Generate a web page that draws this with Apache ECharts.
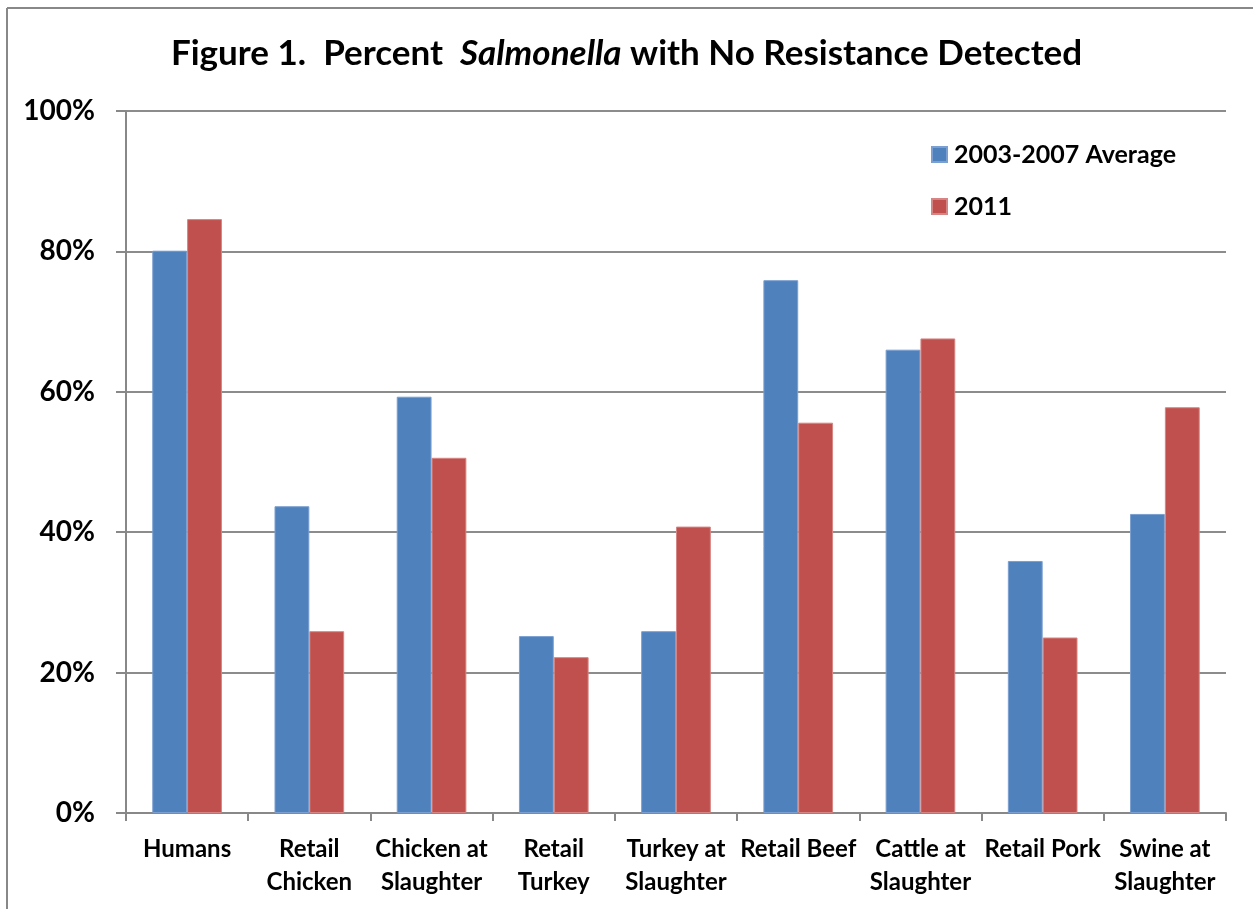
<!DOCTYPE html>
<html>
<head>
<meta charset="utf-8">
<script src="https://cdn.jsdelivr.net/npm/echarts@6/dist/echarts.min.js"></script>
<style>
  html, body { margin: 0; padding: 0; background: #fff; }
  #chart { width: 1253px; height: 909px; }
</style>
</head>
<body>
<div id="chart"></div>
<script>
// Sources tested
const categories = [
  'Humans',
  'Retail\nChicken',
  'Chicken at\nSlaughter',
  'Retail\nTurkey',
  'Turkey at\nSlaughter',
  'Retail Beef',
  'Cattle at\nSlaughter',
  'Retail Pork',
  'Swine at\nSlaughter'
];

// Percent of isolates with no resistance detected
const avg2003to2007 = [80.1, 43.7, 59.3, 25.2, 25.9, 75.9, 66.0, 35.9, 42.6];
const year2011 = [84.6, 25.9, 50.6, 22.2, 40.8, 55.6, 67.6, 25.0, 57.8];

const seriesNames = ['2003-2007 Average', '2011'];
const yTicks = [0, 20, 40, 60, 80, 100];

const FONT = 'Lato';
const chart = echarts.init(document.getElementById('chart'));

chart.setOption({
  backgroundColor: '#fff',
  animation: false,
  title: {
    left: 'center',
    top: 36,
    padding: 0,
    text: '{b|Figure 1.  Percent  }{i|Salmonella}{b| with No Resistance Detected}',
    textStyle: {
      rich: {
        b: { fontFamily: FONT, fontWeight: 'bold', fontSize: 35, color: '#000' },
        i: { fontFamily: FONT, fontWeight: 'bold', fontStyle: 'italic', fontSize: 35, color: '#000' }
      }
    }
  },
  legend: {
    orient: 'vertical',
    left: 931,
    top: 142,
    padding: 0,
    itemWidth: 15,
    itemHeight: 15,
    itemGap: 27,
    icon: 'rect',
    textStyle: { fontFamily: FONT, fontWeight: 'bold', fontSize: 25, color: '#000', padding: [0, 0, 0, 2] },
    data: seriesNames
  },
  grid: { left: 126, right: 27, top: 111, bottom: 96 },
  xAxis: {
    type: 'category',
    data: categories,
    axisLine: { lineStyle: { color: '#888', width: 2 } },
    axisTick: { show: true, length: 8, lineStyle: { color: '#888', width: 2 } },
    axisLabel: {
      interval: 0,
      margin: 20,
      fontFamily: FONT,
      fontWeight: 'bold',
      fontSize: 24,
      lineHeight: 33,
      color: '#000'
    }
  },
  yAxis: {
    type: 'value',
    min: yTicks[0],
    max: yTicks[yTicks.length - 1],
    interval: 20,
    axisLine: { show: true, lineStyle: { color: '#888', width: 2 } },
    axisTick: { show: true, length: 10, lineStyle: { color: '#888', width: 2 } },
    splitLine: { lineStyle: { color: '#8c8c8c', width: 2 } },
    axisLabel: {
      margin: 31,
      fontFamily: FONT,
      fontWeight: 'bold',
      fontSize: 28,
      color: '#000',
      formatter: v => v + '%'
    }
  },
  series: [
    {
      name: seriesNames[0],
      type: 'bar',
      data: avg2003to2007,
      barGap: '0%',
      barCategoryGap: '43%',
      itemStyle: { color: '#4F81BD', borderColor: '#7a9fd0', borderWidth: 1 }
    },
    {
      name: seriesNames[1],
      type: 'bar',
      data: year2011,
      barGap: '0%',
      barCategoryGap: '43%',
      itemStyle: { color: '#C0504D', borderColor: '#d58583', borderWidth: 1 }
    }
  ],
  graphic: [
    // frame around the figure: top edge and left edge
    { type: 'line', shape: { x1: 7, y1: 8, x2: 1253, y2: 8 }, style: { stroke: '#888', lineWidth: 2 } },
    { type: 'line', shape: { x1: 7, y1: 8, x2: 7, y2: 909 }, style: { stroke: '#888', lineWidth: 2 } }
  ]
});
</script>
</body>
</html>
